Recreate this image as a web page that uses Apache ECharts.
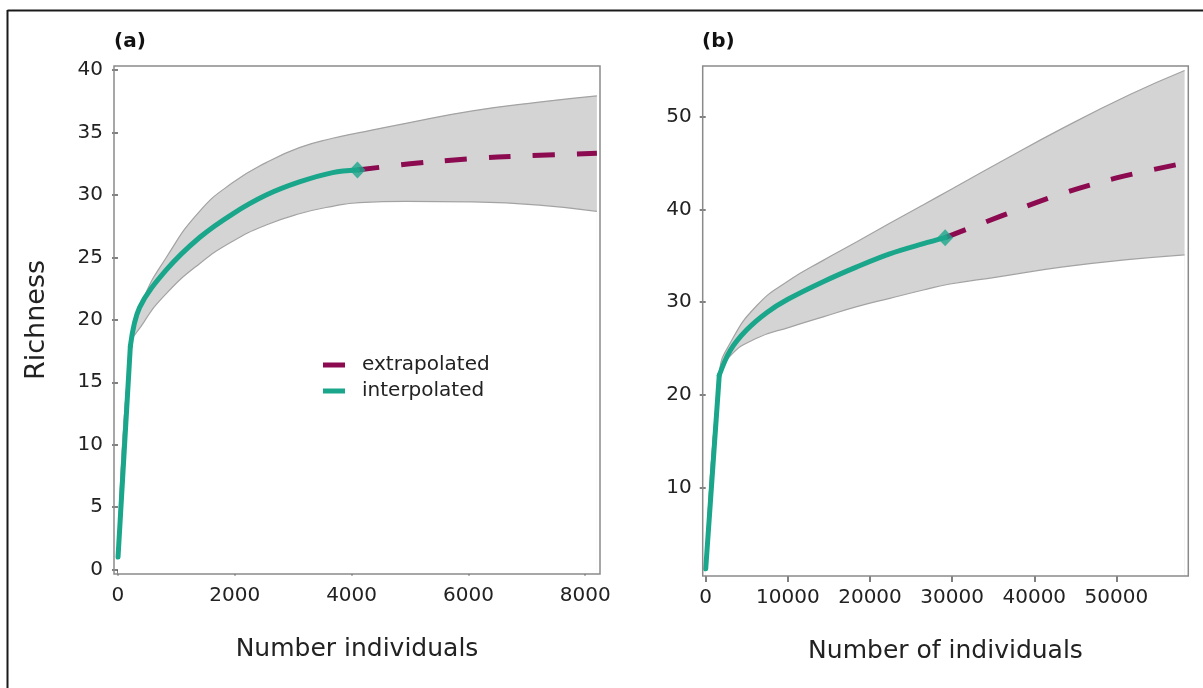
<!DOCTYPE html>
<html>
<head>
<meta charset="utf-8">
<script src="https://cdn.jsdelivr.net/npm/echarts@6/dist/echarts.min.js"></script>
<style>
html, body { margin: 0; padding: 0; background: #fff; }
#chart { width: 1203px; height: 688px; }
</style>
</head>
<body>
<div id="chart"></div>
<script>
// panel (a) - richness vs number of individuals
var aRise = [[1, 1.0], [212, 17.9]];
var aInterp = [[212, 17.9], [371, 21.0], [827, 24.0], [1397, 26.6], [1966, 28.5], [2537, 30.0], [3106, 31.05], [3675, 31.8], [4100, 32.0]];
var aExtrap = [[4100, 32.0], [5000, 32.5], [6000, 32.9], [7000, 33.15], [8200, 33.35]];
var aUpper = [[1, 1.0], [212, 18.1], [427, 21.6], [827, 25.0], [1397, 28.7], [1966, 31.0], [2537, 32.6], [3106, 33.8], [3675, 34.55], [4130, 35.0], [4930, 35.75], [6070, 36.75], [7210, 37.45], [8200, 37.95]];
var aLower = [[1, 1.0], [212, 17.7], [427, 19.7], [827, 22.1], [1397, 24.5], [1966, 26.3], [2537, 27.6], [3106, 28.5], [3675, 29.1], [4130, 29.4], [4930, 29.5], [6070, 29.45], [7210, 29.2], [8200, 28.7]];
var aXTicks = [0, 2000, 4000, 6000, 8000];
var aYTicks = [0, 5, 10, 15, 20, 25, 30, 35, 40];

// panel (b) - richness vs number of individuals
var bRise = [[1, 1.2], [1650, 22.1]];
var bInterp = [[1650, 22.1], [3000, 24.8], [5000, 27.0], [7500, 28.9], [10000, 30.3], [14300, 32.2], [18400, 33.8], [22400, 35.2], [26500, 36.3], [29150, 36.95]];
var bExtrap = [[29150, 36.95], [36000, 39.3], [43000, 41.6], [50000, 43.4], [58300, 45.0]];
var bUpper = [[1, 1.2], [1650, 22.3], [3000, 25.6], [6200, 29.6], [10260, 32.4], [14300, 34.5], [18400, 36.5], [22400, 38.5], [26500, 40.5], [29740, 42.1], [35420, 44.9], [43530, 48.8], [51650, 52.4], [58300, 55.0]];
var bLower = [[1, 1.2], [1650, 21.9], [3000, 24.2], [6200, 26.1], [10260, 27.3], [14300, 28.4], [18400, 29.5], [22400, 30.4], [26500, 31.3], [29740, 31.95], [35420, 32.7], [43530, 33.8], [51650, 34.6], [58300, 35.1]];
var bXTicks = [0, 10000, 20000, 30000, 40000, 50000];
var bYTicks = [10, 20, 30, 40, 50];

var GREEN = '#1aa68b';
var MAROON = '#8b0a50';
var FONT = 'DejaVu Sans';
var SMOOTH = 0.35;

var chartDom = document.getElementById('chart');
var myChart = echarts.init(chartDom);

// confidence band: grey area under upper edge, then white area under lower edge
function band(upper, lower, gi) {
    function edge(pts, fill, z) {
        return {
            type: 'line', xAxisIndex: gi, yAxisIndex: gi, data: pts, silent: true, z: z,
            showSymbol: false, smooth: 0.5,
            lineStyle: { color: '#a3a3a3', width: 1.2 },
            areaStyle: { color: fill, opacity: 1, origin: 'start' }
        };
    }
    return [edge(upper, '#d4d4d4', 1), edge(lower, '#ffffff', 2)];
}

function line(name, pts, gi, color, smooth, dash) {
    return {
        name: name, type: 'line', xAxisIndex: gi, yAxisIndex: gi, data: pts, silent: true, z: 3,
        showSymbol: false, smooth: smooth,
        itemStyle: { color: color },
        lineStyle: { color: color, width: 5, type: dash || 'solid', cap: dash ? 'butt' : 'round', join: 'round' }
    };
}

function diamond(pt, gi) {
    return {
        type: 'scatter', xAxisIndex: gi, yAxisIndex: gi, silent: true, z: 5,
        data: [pt], symbol: 'diamond', symbolSize: [16, 17],
        itemStyle: { color: GREEN }
    };
}

function plain(v) { return String(v); }

function xAxis(gi, min, max, ticks, name) {
    return {
        gridIndex: gi, type: 'value', min: min, max: max,
        axisLine: { show: false }, splitLine: { show: false },
        axisTick: { customValues: ticks, length: 6, lineStyle: { color: '#555', width: 1.5 } },
        axisLabel: { customValues: ticks, formatter: plain, margin: 12, fontSize: 20, fontFamily: FONT, color: '#222' },
        name: name, nameLocation: 'middle', nameGap: 63,
        nameTextStyle: { fontSize: 25, fontFamily: FONT, color: '#222' }
    };
}

function yAxis(gi, min, max, ticks, name) {
    return {
        gridIndex: gi, type: 'value', min: min, max: max,
        axisLine: { show: false }, splitLine: { show: false },
        axisTick: { customValues: ticks, length: 6, lineStyle: { color: '#555', width: 1.5 } },
        axisLabel: { customValues: ticks, formatter: plain, margin: 11, fontSize: 20, fontFamily: FONT, color: '#222' },
        name: name, nameLocation: 'middle', nameGap: 64,
        nameTextStyle: { fontSize: 27, fontFamily: FONT, color: '#222' }
    };
}

// plot frames drawn on top so the white cover does not hide them
var frameStyle = { fill: 'none', stroke: '#8a8a8a', lineWidth: 1.5 };

var option = {
    animation: false,
    textStyle: { fontFamily: FONT },
    grid: [
        { left: 114, top: 66, width: 486, height: 508 },
        { left: 702.7, top: 66, width: 485.6, height: 510 }
    ],
    xAxis: [
        xAxis(0, -68, 8253, aXTicks, 'Number individuals'),
        xAxis(1, -366, 58750, bXTicks, 'Number of individuals')
    ],
    yAxis: [
        yAxis(0, -0.36, 40.34, aYTicks, 'Richness'),
        yAxis(1, 0.43, 55.48, bYTicks, '')
    ],
    legend: {
        orient: 'vertical', left: 318, top: 350, itemWidth: 22, itemHeight: 5, itemGap: 6,
        icon: 'rect', data: ['extrapolated', 'interpolated'], selectedMode: false,
        textStyle: { fontSize: 20, fontFamily: FONT, color: '#222', padding: [0, 0, 0, 12] }
    },
    graphic: [
        { type: 'rect', z: 100, shape: { x: 114, y: 66, width: 486, height: 508 }, style: frameStyle },
        { type: 'rect', z: 100, shape: { x: 702.7, y: 66, width: 485.6, height: 510 }, style: frameStyle },
        { type: 'line', shape: { x1: 7.5, y1: 10.5, x2: 1203, y2: 10.5 }, style: { stroke: '#1a1a1a', lineWidth: 2 } },
        { type: 'line', shape: { x1: 7.5, y1: 10, x2: 7.5, y2: 688 }, style: { stroke: '#1a1a1a', lineWidth: 2 } },
        { type: 'text', left: 114, top: 32, style: { text: '(a)', font: 'bold 20px "DejaVu Sans"', fill: '#111' } },
        { type: 'text', left: 702, top: 32, style: { text: '(b)', font: 'bold 20px "DejaVu Sans"', fill: '#111' } }
    ],
    series: [].concat(
        band(aUpper, aLower, 0),
        [
            line('extrapolated', aExtrap, 0, MAROON, SMOOTH, [22, 22]),
            line('interpolated', aRise, 0, GREEN, false),
            line('interpolated', aInterp, 0, GREEN, SMOOTH),
            diamond(aInterp[aInterp.length - 1], 0)
        ],
        band(bUpper, bLower, 1),
        [
            line('extrapolated', bExtrap, 1, MAROON, SMOOTH, [22, 22]),
            line('interpolated', bRise, 1, GREEN, false),
            line('interpolated', bInterp, 1, GREEN, SMOOTH),
            diamond(bInterp[bInterp.length - 1], 1)
        ]
    )
};

option && myChart.setOption(option);
</script>
</body>
</html>
